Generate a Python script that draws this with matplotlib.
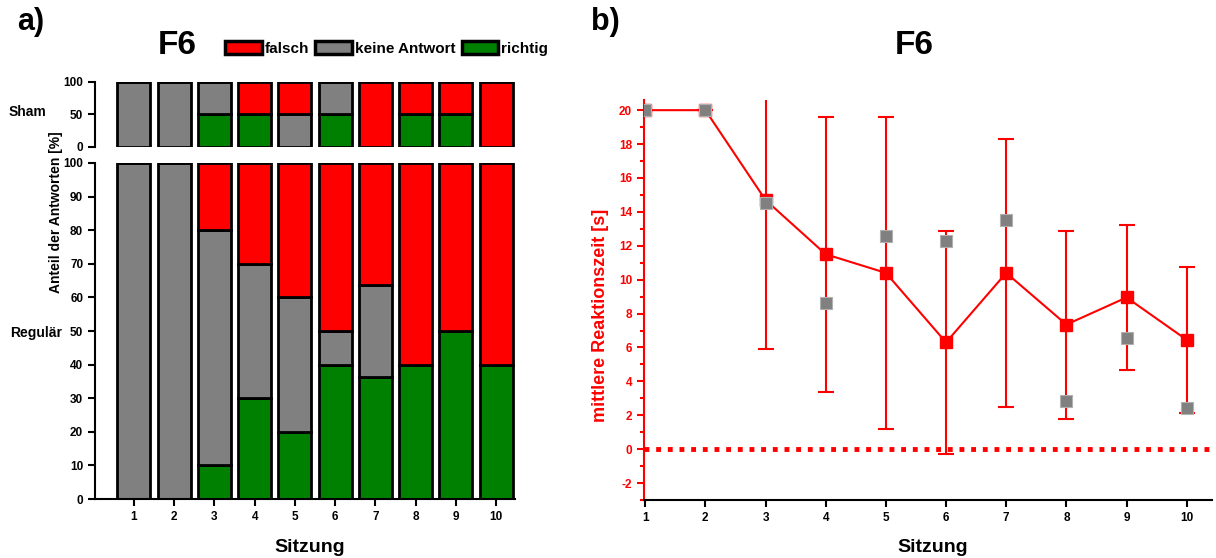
import numpy as np
import matplotlib
matplotlib.use("Agg")
import matplotlib.pyplot as plt
from matplotlib.patches import Patch
from matplotlib.ticker import MultipleLocator

plt.rcParams["font.family"] = ["Liberation Sans", "DejaVu Sans"]
plt.rcParams["font.weight"] = "bold"
plt.rcParams["axes.unicode_minus"] = False

RED, GRAY, GREEN = "#ff0000", "#808080", "#008000"

# panel a) - share of answers [%] per session
SESSIONS = np.arange(1, 11)
SHAM_RICHTIG = [0, 0, 50, 50, 0, 50, 0, 50, 50, 0]
SHAM_KEINE = [100, 100, 50, 0, 50, 50, 0, 0, 0, 0]
SHAM_FALSCH = [0, 0, 0, 50, 50, 0, 100, 50, 50, 100]
REG_RICHTIG = [0, 0, 10, 30, 20, 40, 36.4, 40, 50, 40]
REG_KEINE = [100, 100, 70, 40, 40, 10, 27.3, 0, 0, 0]
REG_FALSCH = [0, 0, 20, 30, 40, 50, 36.3, 60, 50, 60]

# panel b) - mean reaction time [s]
RT_MEAN = [20, 20, 14.7, 11.5, 10.4, 6.3, 10.4, 7.35, 8.95, 6.45]
RT_ERR = [0, 0, 8.8, 8.1, 9.2, 6.6, 7.9, 5.55, 4.3, 4.3]
RT_SHAM = [20, 20, 14.55, 8.65, 12.6, 12.3, 13.5, 2.85, 6.55, 2.45]

TICK_FS = 8.5


def stacked(ax, richtig, keine, falsch):
    kw = dict(width=0.82, edgecolor="black", linewidth=2)
    r, k = np.array(richtig), np.array(keine)
    ax.bar(SESSIONS, richtig, color=GREEN, **kw)
    ax.bar(SESSIONS, keine, bottom=r, color=GRAY, **kw)
    ax.bar(SESSIONS, falsch, bottom=r + k, color=RED, **kw)
    ax.set_xlim(0.03, 10.47)
    for s in ("top", "right"):
        ax.spines[s].set_visible(False)
    ax.spines["left"].set_linewidth(1.5)
    ax.tick_params(axis="y", direction="out", width=1.5, length=5, labelsize=TICK_FS)


fig = plt.figure(figsize=(12.16, 5.58), dpi=100)

ax_sham = fig.add_axes([0.0781, 0.7366, 0.3454, 0.1165])
stacked(ax_sham, SHAM_RICHTIG, SHAM_KEINE, SHAM_FALSCH)
ax_sham.set_ylim(0, 100)
ax_sham.set_yticks([0, 50, 100])
ax_sham.spines["bottom"].set_visible(False)
ax_sham.set_xticks([])

ax_reg = fig.add_axes([0.0781, 0.1057, 0.3454, 0.6022])
stacked(ax_reg, REG_RICHTIG, REG_KEINE, REG_FALSCH)
ax_reg.set_ylim(0, 100)
ax_reg.set_yticks(range(0, 101, 10))
ax_reg.set_xticks(SESSIONS)
ax_reg.spines["bottom"].set_linewidth(1.5)
ax_reg.tick_params(axis="x", direction="out", width=1.5, length=5, labelsize=TICK_FS)

fig.text(0.255, 0.018, "Sitzung", ha="center", va="center", fontsize=14, fontweight="bold")
fig.text(0.046, 0.62, "Anteil der Antworten [%]", rotation=90, ha="center",
         va="center", fontsize=10, fontweight="bold")
fig.text(0.007, 0.799, "Sham", ha="left", va="center", fontsize=10, fontweight="bold")
fig.text(0.008, 0.403, "Regulär", ha="left", va="center", fontsize=10, fontweight="bold")
fig.text(0.025, 0.96, "a)", ha="center", va="center", fontsize=22, fontweight="bold")
fig.text(0.146, 0.919, "F6", ha="center", va="center", fontsize=24, fontweight="bold")
handles = [Patch(facecolor=c, edgecolor="black", linewidth=2.5) for c in (RED, GRAY, GREEN)]
fig.legend(handles, ["falsch", "keine Antwort", "richtig"], loc="center",
           bbox_to_anchor=(0.318, 0.913), ncol=3, frameon=False, fontsize=11,
           handlelength=2.4, handleheight=0.9, handletextpad=0.2, columnspacing=0.4,
           borderpad=0, borderaxespad=0)

ax_rt = fig.add_axes([0.5296, 0.1039, 0.4671, 0.7169])
ax_rt.axhline(0, color=RED, lw=3.5, ls=(0, (1, 1.4)), zorder=1)
ax_rt.errorbar(SESSIONS, RT_MEAN, yerr=RT_ERR, color=RED, lw=1.5, elinewidth=1.5,
               capsize=6, capthick=1.5, marker="s", ms=8.5, mec=RED, zorder=2)
ax_rt.plot(SESSIONS, RT_SHAM, ls="none", marker="s", ms=8, color=GRAY,
           mec="#b0b0b0", mew=0.8, zorder=3)
ax_rt.set_xlim(0.98, 10.42)
ax_rt.set_ylim(-3, 20.6)
ax_rt.set_xticks(SESSIONS)
ax_rt.yaxis.set_major_locator(MultipleLocator(2))
ax_rt.yaxis.set_minor_locator(MultipleLocator(1))
for s in ("top", "right"):
    ax_rt.spines[s].set_visible(False)
ax_rt.spines["left"].set_color(RED)
ax_rt.spines["left"].set_linewidth(1.5)
ax_rt.spines["bottom"].set_linewidth(1.5)
ax_rt.tick_params(axis="y", which="major", direction="out", colors=RED, width=1.5,
                  length=5, labelsize=TICK_FS)
ax_rt.tick_params(axis="y", which="minor", direction="out", colors=RED, width=1.5, length=3)
ax_rt.tick_params(axis="x", direction="out", width=1.5, length=5, labelsize=TICK_FS)
ax_rt.set_ylabel("mittlere Reaktionszeit [s]", color=RED, fontsize=13, fontweight="bold")
ax_rt.yaxis.set_label_coords(-0.062, 0.4625)
fig.text(0.767, 0.018, "Sitzung", ha="center", va="center", fontsize=14, fontweight="bold")
fig.text(0.4975, 0.96, "b)", ha="center", va="center", fontsize=22, fontweight="bold")
fig.text(0.752, 0.919, "F6", ha="center", va="center", fontsize=24, fontweight="bold")

fig.savefig("out.png", dpi=100)
